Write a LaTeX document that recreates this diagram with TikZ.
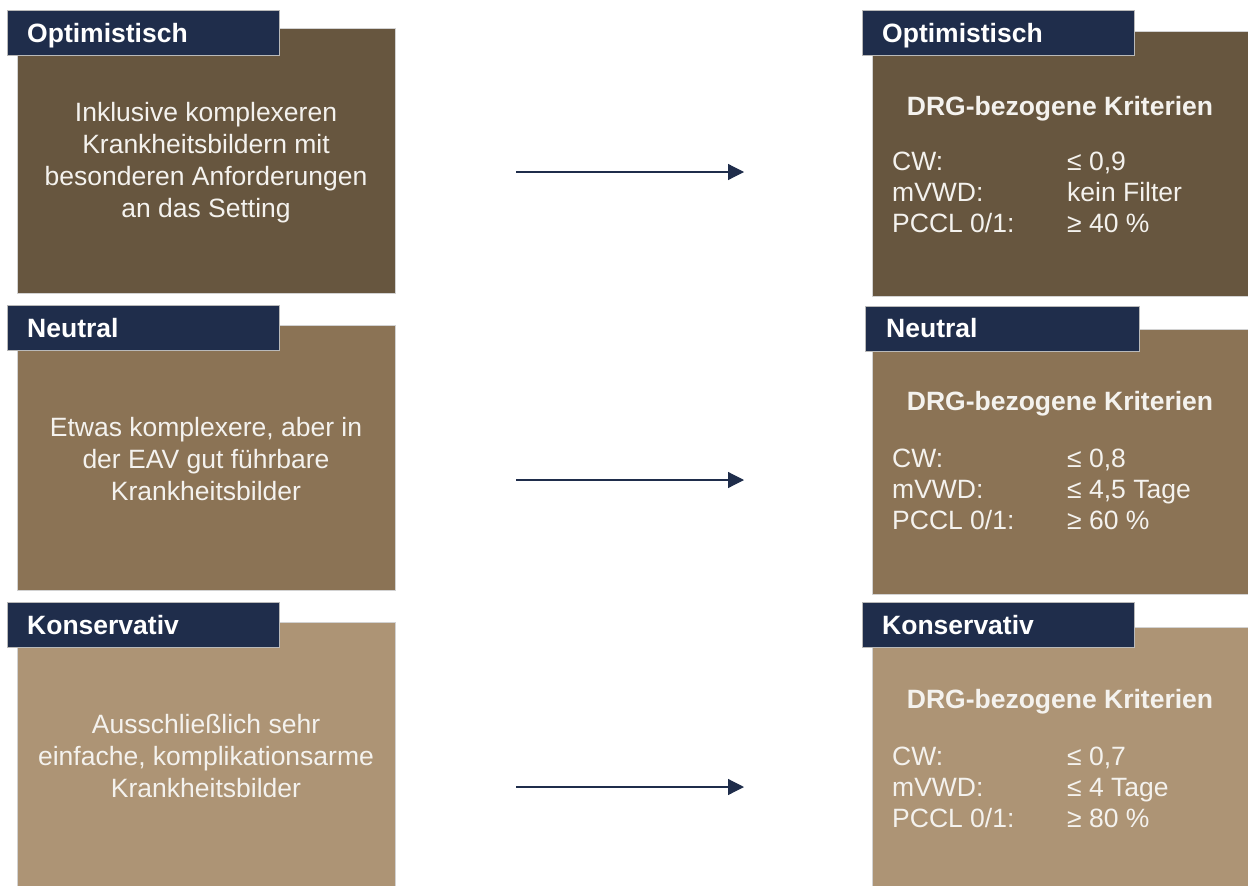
\documentclass[tikz,border=0pt]{standalone}
\usepackage{fontspec}
\setmainfont{Liberation Sans}
\usetikzlibrary{arrows.meta}
\definecolor{navy}{HTML}{1F2D4B}
\definecolor{cone}{HTML}{67563F}
\definecolor{ctwo}{HTML}{8B7355}
\definecolor{cthree}{HTML}{AD9475}
\definecolor{txt}{HTML}{F4F2EE}
\begin{document}
\begin{tikzpicture}[x=1pt,y=-1pt,
  box/.style={draw=gray!35,line width=0.6pt,inner sep=0pt,anchor=north west},
  lbox/.style={box,minimum width=378pt,minimum height=265pt},
  rbox/.style={box,minimum width=376pt,minimum height=265pt},
  tab/.style={fill=navy,draw=gray!55,line width=0.5pt,inner sep=0pt,anchor=north west,minimum width=272pt,minimum height=45pt},
  tabtxt/.style={text=white,font=\fontsize{26.5}{32}\selectfont\bfseries,anchor=base west,inner sep=0pt},
  desc/.style={text=txt,font=\fontsize{26.5}{32}\selectfont,anchor=base,inner sep=0pt},
  head/.style={text=txt,font=\fontsize{26.5}{32}\selectfont\bfseries,anchor=base,inner sep=0pt},
  crit/.style={text=txt,font=\fontsize{26.5}{31.3}\selectfont,anchor=base west,inner sep=0pt},
  arr/.style={draw=navy,line width=1.2pt,-{Triangle[length=16pt,width=16pt]}}]
\path[use as bounding box] (0,0) rectangle (1248,886);

% row 1
\node[lbox,fill=cone] (L1) at (17,28) {};
\node[rbox,fill=cone] (R1) at (872,31) {};
\node[tab] (TL1) at (7,10) {};
\node[tab] (TR1) at (862,10) {};
\node[tabtxt] (TL1t) at (27,42) {Optimistisch};
\node[tabtxt] (TR1t) at (882,42) {Optimistisch};
\node[desc] (D1) at (206,121) {\begin{tabular}[t]{@{}c@{}}Inklusive komplexeren\\Krankheitsbildern mit\\besonderen Anforderungen\\an das Setting\end{tabular}};
\node[head] (H1) at (1060,115) {DRG-bezogene Kriterien};
\node[crit] (K1) at (892,170) {\begin{tabular}[t]{@{}p{175pt}@{}l@{}}CW: & ≤ 0,9\\mVWD: & kein Filter\\PCCL 0/1: & ≥ 40 \%\end{tabular}};

% row 2
\node[lbox,fill=ctwo] (L2) at (17,325) {};
\node[rbox,fill=ctwo] (R2) at (872,329) {};
\node[tab] (TL2) at (7,305) {};
\node[tab,minimum width=274pt] (TR2) at (865,306) {};
\node[tabtxt] (TL2t) at (27,337) {Neutral};
\node[tabtxt] (TR2t) at (886,337) {Neutral};
\node[desc] (D2) at (206,436) {\begin{tabular}[t]{@{}c@{}}Etwas komplexere, aber in\\der EAV gut führbare\\Krankheitsbilder\end{tabular}};
\node[head] (H2) at (1060,410) {DRG-bezogene Kriterien};
\node[crit] (K2) at (892,467) {\begin{tabular}[t]{@{}p{175pt}@{}l@{}}CW: & ≤ 0,8\\mVWD: & ≤ 4,5 Tage\\PCCL 0/1: & ≥ 60 \%\end{tabular}};

% row 3
\node[lbox,fill=cthree] (L3) at (17,622) {};
\node[rbox,fill=cthree] (R3) at (872,627) {};
\node[tab] (TL3) at (7,602) {};
\node[tab] (TR3) at (862,602) {};
\node[tabtxt] (TL3t) at (27,634) {Konservativ};
\node[tabtxt] (TR3t) at (882,634) {Konservativ};
\node[desc] (D3) at (206,733) {\begin{tabular}[t]{@{}c@{}}Ausschließlich sehr\\einfache, komplikationsarme\\Krankheitsbilder\end{tabular}};
\node[head] (H3) at (1060,708) {DRG-bezogene Kriterien};
\node[crit] (K3) at (892,765) {\begin{tabular}[t]{@{}p{175pt}@{}l@{}}CW: & ≤ 0,7\\mVWD: & ≤ 4 Tage\\PCCL 0/1: & ≥ 80 \%\end{tabular}};

% arrows
\coordinate (s1) at (516,172); \coordinate (e1) at (744,172);
\coordinate (s2) at (516,480); \coordinate (e2) at (744,480);
\coordinate (s3) at (516,787); \coordinate (e3) at (744,787);
\draw[arr] (s1) -- (e1);
\draw[arr] (s2) -- (e2);
\draw[arr] (s3) -- (e3);
\end{tikzpicture}
\end{document}
